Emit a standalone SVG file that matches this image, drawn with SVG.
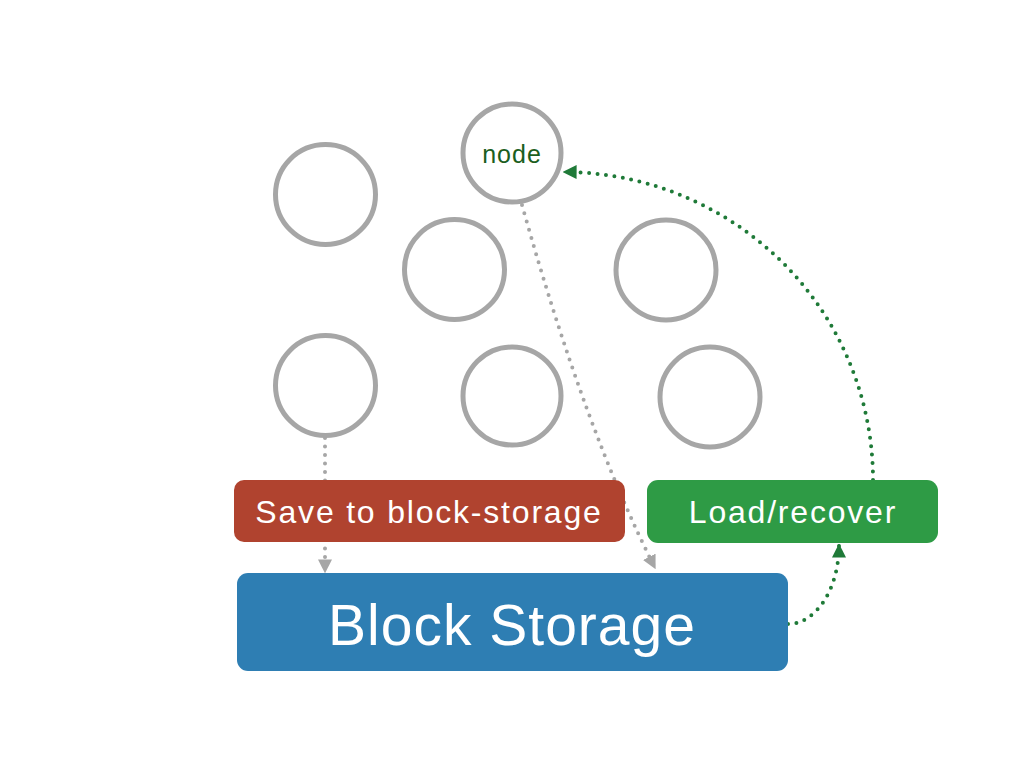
<svg xmlns="http://www.w3.org/2000/svg" width="1024" height="768" viewBox="0 0 1024 768">
<style>
.ring{fill:#fff;stroke:#a6a6a6;stroke-width:5}
.lbl{font-family:"Liberation Sans",Arial,sans-serif;fill:#fff;text-anchor:middle}
.gdot{fill:none;stroke:#a6a6a6;stroke-width:4;stroke-linecap:round;stroke-dasharray:0 8.5}
.edot{fill:none;stroke:#1f7a38;stroke-width:4;stroke-linecap:round;stroke-dasharray:0 8.5}
</style>
<defs>
<marker id="ag" viewBox="0 0 10 10" refX="9" refY="5" markerWidth="14" markerHeight="14" markerUnits="userSpaceOnUse" orient="auto"><path d="M0,0 L10,5 L0,10 z" fill="#a6a6a6"/></marker>
<marker id="ae" viewBox="0 0 10 10" refX="9" refY="5" markerWidth="14" markerHeight="14" markerUnits="userSpaceOnUse" orient="auto"><path d="M0,0 L10,5 L0,10 z" fill="#1f7a38"/></marker>
</defs>
<rect width="1024" height="768" fill="#fff"/>
<g id="connectors">
<path class="gdot" d="M325,438 L325,572" marker-end="url(#ag)"/>
<path class="gdot" d="M522,205 Q585,430 655,568" marker-end="url(#ag)"/>
<path class="edot" d="M873,480 A310,308 0 0 0 564,172" marker-end="url(#ae)"/>
<path class="edot" d="M788,624 A51,79 0 0 0 839,545" marker-end="url(#ae)"/>
</g>
<g id="node-c1"><circle class="ring" cx="325.5" cy="194.5" r="50"/></g>
<g id="node-main"><circle class="ring" cx="512" cy="153" r="49"/>
<text x="512" y="163" font-family="Liberation Sans,Arial,sans-serif" font-size="25" letter-spacing="1" fill="#1b5e20" text-anchor="middle">node</text></g>
<g id="node-c3"><circle class="ring" cx="454.5" cy="269.5" r="50"/></g>
<g id="node-c4"><circle class="ring" cx="666" cy="270" r="50"/></g>
<g id="node-c5"><circle class="ring" cx="325.5" cy="385.5" r="50"/></g>
<g id="node-c6"><circle class="ring" cx="512" cy="396" r="49"/></g>
<g id="node-c7"><circle class="ring" cx="710" cy="397" r="50"/></g>
<g id="save"><rect x="234" y="480" width="391" height="62" rx="10" fill="#b0432f"/>
<text class="lbl" x="429" y="523" font-size="32" letter-spacing="1.8">Save to block-storage</text></g>
<g id="load"><rect x="647" y="480" width="291" height="63" rx="11" fill="#2e9b45"/>
<text class="lbl" x="793" y="523" font-size="32" letter-spacing="1.8">Load/recover</text></g>
<g id="block"><rect x="237" y="573" width="551" height="98" rx="11" fill="#2e7eb3"/>
<text class="lbl" x="512" y="645" font-size="57" letter-spacing="1">Block Storage</text></g>
</svg>
